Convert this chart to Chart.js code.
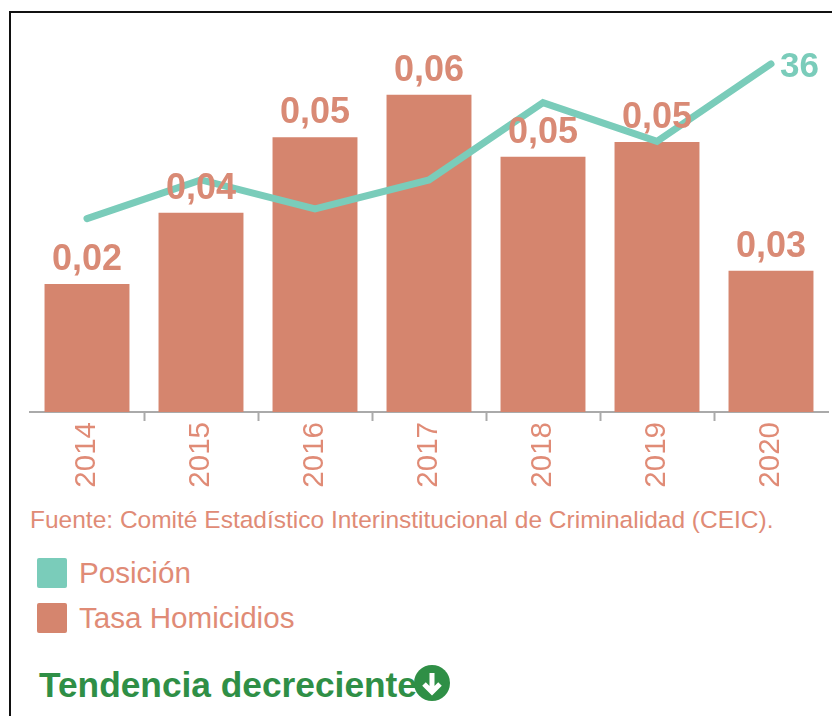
<!DOCTYPE html>
<html lang="es">
<head>
<meta charset="utf-8">
<title>Tasa Homicidios</title>
<script src="https://cdn.jsdelivr.net/npm/chart.js@4"></script>
<style>
  html, body { margin: 0; padding: 0; background: #fff; overflow: hidden; }
  body { width: 832px; height: 716px; position: relative; font-family: "Liberation Sans", Arial, sans-serif; color: #e08b76; }
  #frame { position: absolute; left: 9px; top: 11px; width: 900px; height: 800px; border: 2px solid #111; box-sizing: border-box; }
  #chart1 { position: absolute; left: 0; top: 0; }
  #source { position: absolute; left: 30px; top: 505px; font-size: 24.5px; line-height: 30px; white-space: nowrap; }
  #legend { position: absolute; left: 37px; top: 551px; }
  .item { display: flex; align-items: center; height: 44.5px; font-size: 29.6px; }
  .box { width: 30px; height: 30px; margin-right: 12px; border-radius: 2px; }
  #trend { position: absolute; left: 39px; top: 664px; font-size: 35.3px; line-height: 42px; font-weight: bold; color: #2f8f46; white-space: nowrap; }
  #trendIcon { position: absolute; left: 413px; top: 664px; }
</style>
</head>
<body>
<div id="frame"></div>
<canvas id="chart1" width="832" height="500"></canvas>
<div id="source"></div>
<div id="legend"></div>
<div id="trend"></div>
<svg id="trendIcon" width="38" height="38" viewBox="0 0 38 38">
  <circle cx="19" cy="19" r="18" fill="#2f8f46"/>
  <path d="M19 9 V27 M11 20 L19 28 L27 20" fill="none" stroke="#fff" stroke-width="5"/>
</svg>
<script>
const years = ['2014', '2015', '2016', '2017', '2018', '2019', '2020'];
const posicion = [20, 24, 21, 24, 32, 28, 36];
const tasaHomicidios = [0.0242, 0.0377, 0.052, 0.06, 0.0483, 0.0511, 0.0267];
const seriesNames = ['Posición', 'Tasa Homicidios'];
const sourceText = 'Fuente: Comité Estadístico Interinstitucional de Criminalidad (CEIC).';
const trendText = 'Tendencia decreciente';

const teal = '#7accba';
const salmon = '#d5856e';
const labelColor = '#d98a75';

document.getElementById('source').textContent = sourceText;
document.getElementById('trend').textContent = trendText;

// legend is plain html under the canvas, one row per series
const legend = document.getElementById('legend');
[teal, salmon].forEach((color, i) => {
  const row = document.createElement('div');
  row.className = 'item';
  const box = document.createElement('span');
  box.className = 'box';
  box.style.background = color;
  row.appendChild(box);
  row.appendChild(document.createTextNode(seriesNames[i]));
  legend.appendChild(row);
});

// no datalabels plugin available, so the values get written by hand after the datasets
const valueLabels = {
  id: 'valueLabels',
  afterDatasetsDraw(chart) {
    const ctx = chart.ctx;
    ctx.save();
    ctx.font = 'bold 36px "Liberation Sans", Arial, sans-serif';
    ctx.textBaseline = 'alphabetic';

    ctx.fillStyle = labelColor;
    ctx.textAlign = 'center';
    chart.getDatasetMeta(1).data.forEach((bar, i) => {
      ctx.fillText(tasaHomicidios[i].toFixed(2).replace('.', ','), bar.x, bar.y - 14);
    });

    const last = chart.getDatasetMeta(0).data[posicion.length - 1];
    ctx.fillStyle = teal;
    ctx.textAlign = 'left';
    ctx.font = 'bold 35px "Liberation Sans", Arial, sans-serif';
    ctx.fillText(String(posicion[posicion.length - 1]), last.x + 9, last.y + 13);
    ctx.restore();
  }
};

document.addEventListener('DOMContentLoaded', () => {
  createChart1();
});

const createChart1 = () => {
  const ctx = document.getElementById('chart1').getContext('2d');

  const data = {
    labels: years,
    datasets: [{
      type: 'line',
      label: seriesNames[0],
      data: posicion,
      yAxisID: 'yLine',
      borderColor: teal,
      borderWidth: 7,
      borderCapStyle: 'round',
      borderJoinStyle: 'miter',
      pointRadius: 0,
      tension: 0,
      order: 0,
    }, {
      type: 'bar',
      label: seriesNames[1],
      data: tasaHomicidios,
      yAxisID: 'yBar',
      backgroundColor: salmon,
      categoryPercentage: 1,
      barPercentage: 0.745,
      order: 1,
    }]
  };

  const config = {
    data: data,
    plugins: [valueLabels],
    options: {
      responsive: false,
      animation: false,
      layout: { padding: { left: 30, right: 4, top: 42, bottom: 0 } },
      plugins: {
        legend: { display: false },
        title: { display: false },
        tooltip: { enabled: false },
      },
      scales: {
        x: {
          afterFit: (scale) => { scale.height = 88; },
          border: { color: '#aaa', width: 2 },
          grid: {
            drawOnChartArea: false,
            tickLength: 9,
            tickWidth: 2,
            // the closing tick past the last category has no tick object
            tickColor: (c) => (c.index === 0 || !c.tick ? 'transparent' : '#aaa'),
          },
          ticks: {
            color: '#e08b76',
            font: { family: '"Liberation Sans", Arial, sans-serif', size: 29.5 },
            minRotation: 90,
            maxRotation: 90,
            padding: 1,
          },
        },
        yBar: { display: false, min: 0, max: 0.07 },
        yLine: { display: false, min: 0, max: 38.27 },
      }
    },
  };

  new Chart(ctx, config);
};
</script>
</body>
</html>
